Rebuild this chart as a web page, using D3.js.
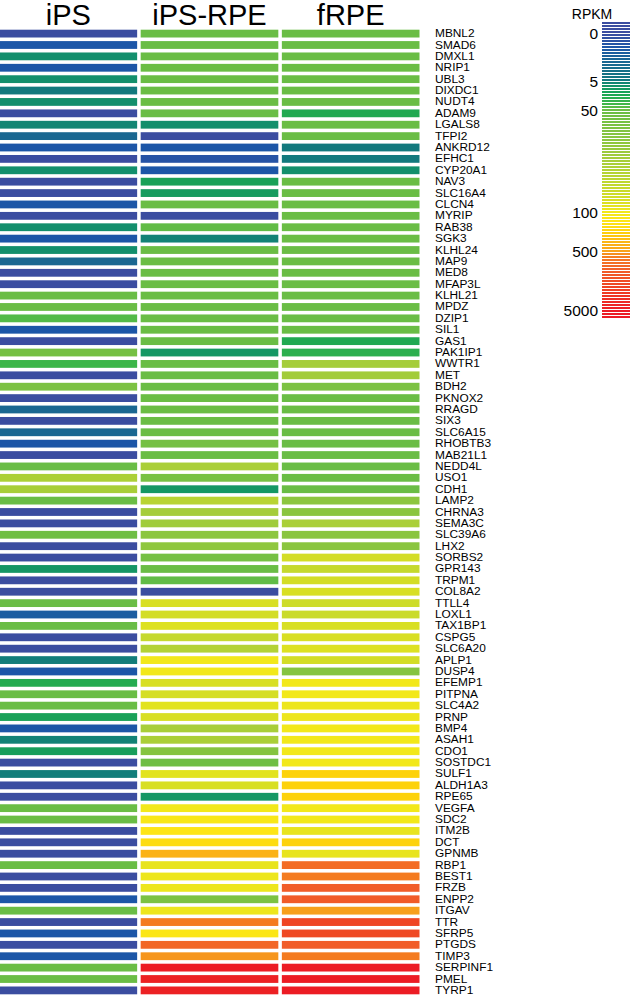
<!DOCTYPE html>
<html><head><meta charset="utf-8">
<script src="https://cdn.jsdelivr.net/npm/d3@7"></script>
<style>html,body{margin:0;padding:0;background:#fff;}svg{display:block;}</style>
</head><body>
<svg id="chart" width="630" height="995"></svg>
<script>
const samples = ["iPS", "iPS-RPE", "fRPE"];
const genes = ["MBNL2","SMAD6","DMXL1","NRIP1","UBL3","DIXDC1","NUDT4","ADAM9","LGALS8","TFPI2",
"ANKRD12","EFHC1","CYP20A1","NAV3","SLC16A4","CLCN4","MYRIP","RAB38","SGK3","KLHL24",
"MAP9","MED8","MFAP3L","KLHL21","MPDZ","DZIP1","SIL1","GAS1","PAK1IP1","WWTR1",
"MET","BDH2","PKNOX2","RRAGD","SIX3","SLC6A15","RHOBTB3","MAB21L1","NEDD4L","USO1",
"CDH1","LAMP2","CHRNA3","SEMA3C","SLC39A6","LHX2","SORBS2","GPR143","TRPM1","COL8A2",
"TTLL4","LOXL1","TAX1BP1","CSPG5","SLC6A20","APLP1","DUSP4","EFEMP1","PITPNA","SLC4A2",
"PRNP","BMP4","ASAH1","CDO1","SOSTDC1","SULF1","ALDH1A3","RPE65","VEGFA","SDC2",
"ITM2B","DCT","GPNMB","RBP1","BEST1","FRZB","ENPP2","ITGAV","TTR","SFRP5",
"PTGDS","TIMP3","SERPINF1","PMEL","TYRP1"];
const iPS = [0,1.5,10,1.5,10,5,10,0,8,3,
1.5,0,10,0,0,1.5,0,10,1.5,10,
3,0,0,50,50,45,1.5,0,55,40,
0,58,0,3,0,3,1.5,0,50,77,
75,50,0,0,52,0,0,14,0,0,
50,2,50,0,0,6,1.5,30,50,50,
22,1.5,7,20,0,6,0,0,50,50,
0,0,0,50,0,0,1.5,50,0,1.5,
0,1.5,50,50,0];
const iPSRPE = [50,50,50,50,50,50,50,50,10,0,
1.5,1,1.5,22,18,50,0,48,7,50,
50,50,50,50,50,50,50,50,15,50,
50,50,50,50,50,50,55,50,76,56,
15,82,74,72,65,66,55,50,48,0,
95,93,96,88,80,100,100,95,94,97,
95,75,76,62,52,97,95,15,100,150,
200,250,420,98,99,99,58,99,1000,180,
1700,650,5000,4800,4800];
const fRPE = [50,50,50,50,50,50,50,28,50,50,
5,5,10,50,50,50,50,50,50,50,
50,50,50,50,50,50,50,28,33,74,
73,58,50,50,50,50,50,50,50,50,
50,65,64,76,64,64,93,88,93,95,
91,90,95,95,96,93,62,100,100,99,
99,100,100,100,100,300,300,300,100,100,
98,300,98,1500,1000,2000,2100,520,3200,3000,
2000,1000,5000,5000,5000];
const legendTicks = [0, 5, 50, 100, 500, 5000];

const colorStops = [0,1.5,3,5,10,25,40,50,65,75,88,95,100,200,300,420,520,1000,2000,3200,5000];
const colorRange = ["#3b4da0","#1c56a7","#1a6791","#12797d","#138f6c","#1aa653","#3cb649","#6abd45",
"#8cc63f","#a8ce39","#c5d92e","#d8df23","#f2e81a","#fde516","#fdd20b","#fbb216","#f7a01c",
"#f47b20","#f15d29","#ef4523","#ec1c24"];
const color = d3.scaleLinear().domain(colorStops).range(colorRange).clamp(true);

const series = [iPS, iPSRPE, fRPE];
const cells = [];
genes.forEach((g, i) => samples.forEach((s, j) => cells.push({gene: g, sample: s, value: series[j][i]})));

const svg = d3.select("#chart");
const font = "'Liberation Sans', Arial, Helvetica, sans-serif";

const x = d3.scaleBand().domain(samples).range([-0.5, 419.5]).paddingInner(0.025);
const y = d3.scaleBand().domain(genes).range([29.7, 994.3]).paddingInner(0.315).paddingOuter(0);

svg.append("g").selectAll("rect").data(cells).join("rect")
  .attr("x", d => x(d.sample)).attr("y", d => y(d.gene))
  .attr("width", x.bandwidth()).attr("height", y.bandwidth())
  .attr("fill", d => color(d.value));

svg.append("g").selectAll("text").data(samples).join("text")
  .attr("x", d => x(d) + x.bandwidth() / 2).attr("y", 25)
  .attr("text-anchor", "middle").attr("font-family", font).attr("font-size", 29)
  .attr("fill", "#000").text(d => d);

svg.append("g").attr("transform", "translate(435,0) scale(1.08,1)")
  .selectAll("text").data(genes).join("text")
  .attr("x", 0).attr("y", d => y(d) + y.bandwidth() / 2)
  .attr("dy", "0.32em").attr("font-family", font).attr("font-size", 11)
  .attr("fill", "#000").text(d => d);

// legend
const pos = d3.scaleLinear().domain(legendTicks).range([33, 81, 110, 212, 251, 310]);
const stripes = d3.range(22, 318, 3);
const lg = svg.append("g");
lg.selectAll("rect").data(stripes).join("rect")
  .attr("x", 602).attr("y", d => d).attr("width", 28).attr("height", 2)
  .attr("fill", d => color(Math.max(0, Math.min(5000, pos.invert(d + 1)))));
lg.selectAll("text.tick").data(legendTicks).join("text").attr("class", "tick")
  .attr("x", 598).attr("y", d => pos(d)).attr("dy", "0.36em")
  .attr("text-anchor", "end").attr("font-family", font).attr("font-size", 15.5)
  .attr("fill", "#000").text(d => d);
lg.append("text").attr("x", 592).attr("y", 19).attr("text-anchor", "middle")
  .attr("font-family", font).attr("font-size", 14).attr("fill", "#000").text("RPKM");
</script>
</body></html>
